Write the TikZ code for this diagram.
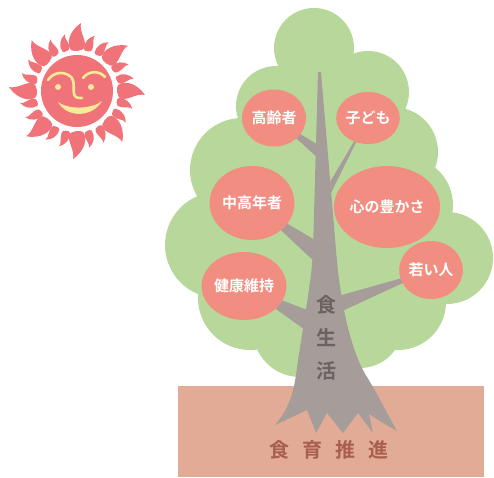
\documentclass[tikz,border=0pt]{standalone}
\usepackage{fontspec}
\newfontfamily\jpfont{Noto Sans CJK JP}[BoldFont={* Bold}]
\usetikzlibrary{shapes.geometric}

\definecolor{leaf}{HTML}{B8D89B}
\definecolor{fruit}{HTML}{F28D82}
\definecolor{bark}{HTML}{A69D9A}
\definecolor{soil}{HTML}{E2AB96}
\definecolor{soiltext}{HTML}{A8604C}
\definecolor{barktext}{HTML}{6B6361}
\definecolor{sunred}{HTML}{F07379}
\definecolor{sunface}{HTML}{F8EA97}

\tikzset{
    fruitball/.style={ellipse,fill=fruit,inner sep=0pt,text=white,
        font=\jpfont\bfseries\fontsize{15}{15}\selectfont},
    bigray/.style={fill=sunred},
}

\begin{document}
\begin{tikzpicture}[x=1pt,y=-1pt]
    \useasboundingbox (0,0) rectangle (494,477);

    % crown of the tree
    \foreach \cx/\cy/\r in {314/48/40,368/92/41,276/106/40,393/152/45,242/170/52,405/205/48,
        218/245/53,447/258/46,250/298/52,398/302/48,300/330/47,360/325/43,
        325/220/95,320/110/40,340/170/50}
        \fill[leaf] (\cx,\cy) circle (\r pt);

    % ground
    \fill[soil] (178,386) rectangle (484,477);

    % trunk with roots
    \fill[bark] (318,72) -- (321,72) -- (336,250)
        .. controls (340,300) and (350,350) .. (367,377)
        .. controls (378,395) and (388,415) .. (397,431)
        .. controls (388,426) and (378,420) .. (369,414)
        -- (373,433) -- (358,413) -- (343,433) -- (327,413) -- (316,433) -- (307,410)
        -- (275,425)
        .. controls (288,410) and (293,395) .. (296,375)
        .. controls (302,330) and (312,280) .. (313,250) -- cycle;

    % where the fruit hang
    \coordinate (elder) at (274,118);
    \coordinate (kids) at (368,118);
    \coordinate (middle) at (252,203);
    \coordinate (heart) at (387,207);
    \coordinate (health) at (244,286);
    \coordinate (young) at (431,270);

    % branches
    \fill[bark] (320,146) -- (elder) -- (320,160) -- cycle;
    \fill[bark] (330,182) -- (kids) -- (331,193) -- cycle;
    \fill[bark] (322,244) -- (middle) -- (318,265) -- cycle;
    \fill[bark] (318,314) -- (health) -- (312,335) -- cycle;
    \fill[bark] (338,296) -- (young) -- (340,312) -- cycle;

    \node[fruitball,minimum width=64pt,minimum height=57pt] (elderball) at (elder) {高齢者};
    \node[fruitball,minimum width=58pt,minimum height=52pt] (kidsball) at (kids) {子ども};
    \node[fruitball,minimum width=80pt,minimum height=74pt] (middleball) at (middle) {中高年者};
    \node[fruitball,minimum width=90pt,minimum height=82pt] (heartball) at (heart) {心の豊かさ};
    \node[fruitball,minimum width=74pt,minimum height=68pt] (healthball) at (health) {健康維持};
    \node[fruitball,minimum width=63pt,minimum height=58pt] (youngball) at (young) {若い人};

    \node[align=center,text=barktext,font=\jpfont\bfseries\fontsize{20}{33}\selectfont] (life) at (326,338) {食\\生\\活};
    \node[text=soiltext,font=\jpfont\bfseries\fontsize{20}{20}\selectfont] (promo) at (329,450)
        {食\hspace{13pt}育\hspace{13pt}推\hspace{13pt}進};

    % sun
    \begin{scope}[shift={(77,91)}]
        \foreach \a in {0,45,...,315} {
            \fill[bigray,rotate=\a] (41,-6) .. controls (47,-11) and (60,-8) .. (68,4)
                .. controls (60,2) and (52,9) .. (44,8) .. controls (40,7) and (39,-4) .. (41,-6) -- cycle;
            \foreach \b in {15,30}
                \fill[bigray,rotate=\a+\b] (42,-4) .. controls (48,-6) and (55,-3) .. (58,3)
                    .. controls (54,1) and (49,5) .. (44,4) .. controls (41,4) and (40,-3) .. (42,-4) -- cycle;
        }
        \fill[sunred] (0,0) circle (36pt);
        \draw[sunface,line width=2.6pt,line cap=round] (-29,-11) .. controls (-23,-20) and (-11,-20) .. (-5,-13)
            .. controls (-2,-8) and (-4,0) .. (-3,3) .. controls (-2,7) and (1,7) .. (5,7);
        \draw[sunface,line width=2.6pt,line cap=round] (6,-13) .. controls (11,-20) and (22,-21) .. (28,-14);
        \fill[sunface] (-19,-4) circle (3pt) (14,-4) circle (3pt);
        \fill[sunface] (-19,11) .. controls (-10,27) and (15,27) .. (25,10)
            .. controls (15,18) and (-8,19) .. (-19,11) -- cycle;
    \end{scope}
\end{tikzpicture}
\end{document}
